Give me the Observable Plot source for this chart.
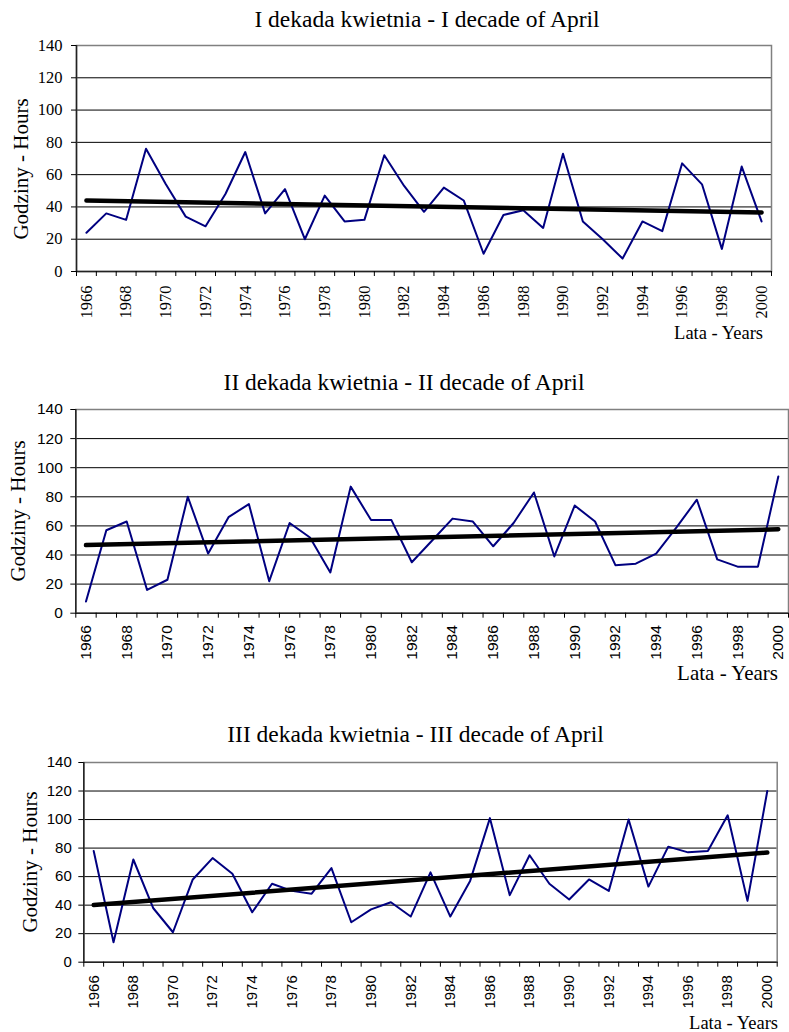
<!DOCTYPE html>
<html><head><meta charset="utf-8">
<script src="https://cdn.jsdelivr.net/npm/d3@7"></script>
<script src="https://cdn.jsdelivr.net/npm/@observablehq/plot@0.6"></script>
<style>
body{margin:0;background:#fff}
#root{position:relative;width:789px;height:1032px;overflow:hidden;background:#fff}
.panel{position:absolute;left:0}
.t{position:absolute;white-space:nowrap;font-family:"Liberation Serif","Times New Roman",serif;color:#000;line-height:1}
</style></head><body><div id="root"></div>
<script>
const years = [1966,1967,1968,1969,1970,1971,1972,1973,1974,1975,1976,1977,1978,1979,1980,1981,1982,1983,1984,1985,1986,1987,1988,1989,1990,1991,1992,1993,1994,1995,1996,1997,1998,1999,2000];
const labelYears = [1966,1968,1970,1972,1974,1976,1978,1980,1982,1984,1986,1988,1990,1992,1994,1996,1998,2000];
const yTicks = [0,20,40,60,80,100,120,140];
const decade1 = [24,36,32,76,54,34,28,48,74,36,51,20,47,31,32,72,53,37,52,44,11,35,38,27,73,31,20,8,31,25,67,54,14,65,31];
const decade2 = [8,57,63,16,23,80,41,66,75,22,62,52,28,87,64,64,35,50,65,63,46,62,83,39,74,63,33,34,41,59,78,37,32,32,94];
const decade3 = [78,14,72,38,21,58,73,62,35,55,50,48,66,28,37,42,32,63,32,57,101,47,75,55,44,58,50,100,53,81,77,78,103,43,120];
const titles = ["I dekada kwietnia - I decade of April","II dekada kwietnia - II decade of April","III dekada kwietnia - III decade of April"];
const yLabel = "Godziny - Hours";
const xLabel = "Lata - Years";

const serif = "Liberation Serif";
const sans = "Liberation Sans";

const panels = [
  {vals: decade1, top: 0, h: 345, ml: 76, mr: 18, mt: 45, mb: 74, font: serif, fs: 16.5, tp: 9, xp: 14,
   title: {x: 427, y: 20, fs: 23.5}, yl: {x: 21, y: 169, fs: 21}, xl: {x: 763, y: 333, fs: 18.5}},
  {vals: decade2, top: 360, h: 345, ml: 75.3, mr: 1, mt: 49, mb: 92.3, font: sans, fs: 15.5, tp: 8, xp: 12,
   title: {x: 404, y: 383, fs: 23.5}, yl: {x: 18, y: 511, fs: 21}, xl: {x: 778, y: 673, fs: 21}},
  {vals: decade3, top: 710, h: 322, ml: 83.3, mr: 12.3, mt: 52, mb: 70.3, font: sans, fs: 15, tp: 7, xp: 13,
   title: {x: 415.5, y: 735, fs: 23.5}, yl: {x: 30, y: 862, fs: 21}, xl: {x: 778, y: 1023, fs: 18.5}}
];

const root = document.getElementById("root");
const boundaries = years.map(y => y - 0.5).concat([years[years.length - 1] + 0.5]);

panels.forEach((p, i) => {
  const data = years.map((y, k) => ({year: y, v: p.vals[k]}));
  const txt = {fontFamily: p.font, fontSize: p.fs};
  const chart = Plot.plot({
    width: 789, height: p.h,
    marginLeft: p.ml, marginRight: p.mr, marginTop: p.mt, marginBottom: p.mb,
    x: {type: "linear", domain: [boundaries[0], boundaries[boundaries.length - 1]]},
    y: {domain: [0, 140]},
    style: {fontFamily: p.font, fontSize: p.fs + "px", color: "#000", background: "transparent", overflow: "visible"},
    marks: [
      Plot.ruleY(yTicks.filter(v => v > 0 && v < 140), {stroke: "#000", strokeWidth: 1}),
      Plot.frame({stroke: "#808080", strokeWidth: 1.5}),
      Plot.ruleX([boundaries[0]], {stroke: "#222", strokeWidth: 1.5}),
      Plot.ruleY([0], {stroke: "#222", strokeWidth: 1.5}),
      Plot.axisY({ticks: yTicks, tickSize: 5, tickPadding: p.tp, label: null, tickFormat: d => String(d), ...txt}),
      Plot.axisX({ticks: boundaries, tickSize: 5, tickFormat: () => "", label: null}),
      Plot.axisX({ticks: labelYears, tickSize: 0, tickPadding: p.xp, tickRotate: -90, tickFormat: d => String(d), label: null, ...txt}),
      Plot.line(data, {x: "year", y: "v", stroke: "#000080", strokeWidth: 2}),
      Plot.linearRegressionY(data, {x: "year", y: "v", stroke: "#000", strokeWidth: 4.5, ci: 0})
    ]
  });
  const wrap = document.createElement("div");
  wrap.className = "panel";
  wrap.style.top = p.top + "px";
  wrap.appendChild(chart);
  root.appendChild(wrap);

  const t = document.createElement("div");
  t.className = "t";
  t.textContent = titles[i];
  t.style.fontSize = p.title.fs + "px";
  t.style.left = p.title.x + "px";
  t.style.top = p.title.y + "px";
  t.style.transform = "translate(-50%,-50%)";
  root.appendChild(t);

  const yl = document.createElement("div");
  yl.className = "t";
  yl.textContent = yLabel;
  yl.style.fontSize = p.yl.fs + "px";
  yl.style.left = p.yl.x + "px";
  yl.style.top = p.yl.y + "px";
  yl.style.transform = "translate(-50%,-50%) rotate(-90deg)";
  root.appendChild(yl);

  const xl = document.createElement("div");
  xl.className = "t";
  xl.textContent = xLabel;
  xl.style.fontSize = p.xl.fs + "px";
  xl.style.left = p.xl.x + "px";
  xl.style.top = p.xl.y + "px";
  xl.style.transform = "translate(-100%,-50%)";
  root.appendChild(xl);
});
</script></body></html>
